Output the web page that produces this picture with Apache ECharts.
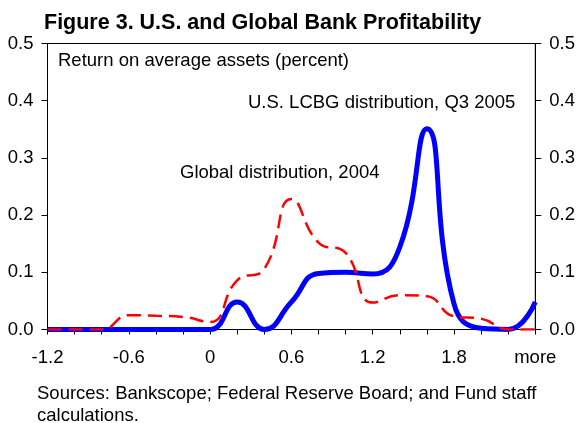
<!DOCTYPE html>
<html>
<head>
<meta charset="utf-8">
<script src="https://cdn.jsdelivr.net/npm/echarts@6/dist/echarts.min.js"></script>
<style>
  html, body { margin: 0; padding: 0; background: #fff; }
  #chart { width: 578px; height: 423px; }
</style>
</head>
<body>
<div id="chart"></div>
<script>
const categories = ['-1.2', '-1.0', '-0.8', '-0.6', '-0.4', '-0.2', '0', '0.2', '0.4', '0.6',
  '0.8', '1.0', '1.2', '1.4', '1.6', '1.8', '2.0', '2.2', 'more']
const usLcbg = [0, 0, 0, 0, 0, 0, 0, 0.048, 0, 0.048,
  0.098, 0.1, 0.097, 0.144, 0.351, 0.045, 0.002, 0, 0.048]
const global2004 = [0, 0, 0, 0.025, 0.024, 0.022, 0.013, 0.086, 0.106, 0.228,
  0.152, 0.134, 0.047, 0.06, 0.058, 0.023, 0.019, 0, 0]
const yTicks = [0, 0.1, 0.2, 0.3, 0.4, 0.5]

const font = '"Liberation Sans", Arial, sans-serif'
const axisLine = { lineStyle: { color: '#000', width: 1 } }
const labelStyle = { color: '#000', fontSize: 18.5, fontFamily: font }

const chart = echarts.init(document.getElementById('chart'), null, { renderer: 'canvas' })

const yAxis = pos => ({
  type: 'value',
  position: pos,
  min: yTicks[0],
  max: yTicks[yTicks.length - 1],
  interval: 0.1,
  splitLine: { show: false },
  axisLine: { show: true, ...axisLine },
  axisTick: { show: true, length: 6, lineStyle: { color: '#000' } },
  axisLabel: { ...labelStyle, margin: 14, formatter: v => v.toFixed(1) }
})

const note = (left, top, text) => ({
  type: 'text', left, top,
  style: { text, font: '18.5px ' + font, fill: '#000' }
})

chart.setOption({
  animation: false,
  backgroundColor: '#fff',
  title: {
    text: 'Figure 3. U.S. and Global Bank Profitability',
    left: 44,
    top: 12,
    padding: 0,
    textStyle: { fontSize: 21.5, fontWeight: 'bold', color: '#000', fontFamily: font }
  },
  grid: {
    left: 47.5, right: 42.5, top: 43.5, bottom: 93.5,
    show: true, borderColor: '#000', borderWidth: 1
  },
  xAxis: {
    type: 'category',
    data: categories,
    boundaryGap: false,
    axisLine: axisLine,
    axisTick: { show: true, interval: 0, length: 5, lineStyle: { color: '#000' } },
    axisLabel: { ...labelStyle, interval: 2, margin: 19 }
  },
  yAxis: [yAxis('left'), yAxis('right')],
  graphic: [
    note(58, 51, 'Return on average assets (percent)'),
    note(248, 93, 'U.S. LCBG distribution, Q3 2005'),
    note(180, 163, 'Global distribution, 2004'),
    note(37, 384, 'Sources: Bankscope; Federal Reserve Board; and Fund staff'),
    note(37, 406, 'calculations.')
  ],
  series: [
    {
      name: 'U.S. LCBG distribution, Q3 2005',
      type: 'line',
      data: usLcbg,
      smooth: 0.5,
      symbol: 'none',
      lineStyle: { color: '#0000ff', width: 5 }
    },
    {
      name: 'Global distribution, 2004',
      type: 'line',
      data: global2004,
      smooth: 0.5,
      symbol: 'none',
      lineStyle: { color: '#ff0000', width: 2.5, type: [14, 7] }
    }
  ]
})
</script>
</body>
</html>
